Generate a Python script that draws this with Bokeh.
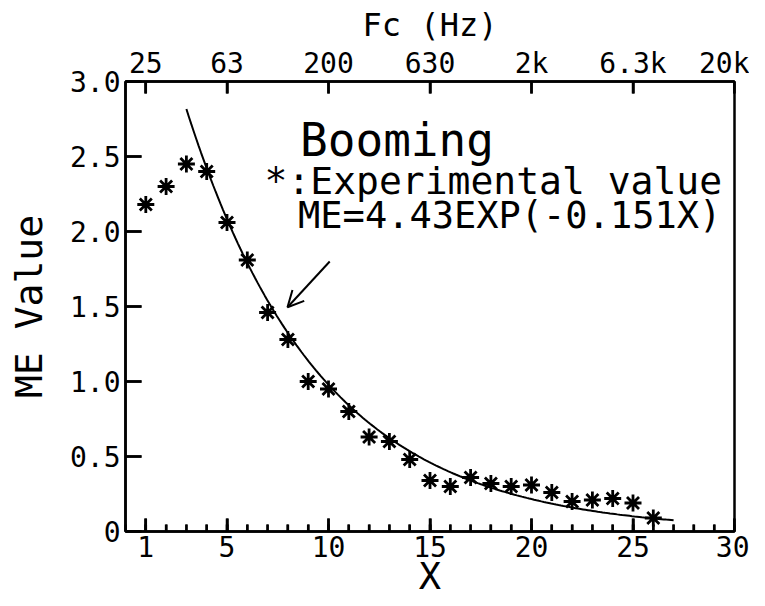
import numpy as np
from bokeh.plotting import figure
from bokeh.models import (LinearAxis, FixedTicker, Range1d, Arrow, OpenHead,
                          ColumnDataSource)
from bokeh.core.properties import value
from bokeh.embed import file_html
from bokeh.resources import INLINE

# ---- data ----
x_index = list(range(1, 27))
me_values = [2.18, 2.30, 2.45, 2.40, 2.06, 1.81, 1.46, 1.28, 1.00, 0.95,
             0.80, 0.63, 0.60, 0.48, 0.34, 0.30, 0.36, 0.32, 0.30, 0.31,
             0.26, 0.20, 0.21, 0.22, 0.19, 0.09]

# fitted curve stated on the chart: ME = 4.43 EXP(-0.151 X), drawn for X = 3..27
fit_a = 4.43
fit_b = -0.151
fit_x_start = 3
fit_x_end = 27

x_ticks = [1, 5, 10, 15, 20, 25, 30]
x_minor_ticks = list(range(0, 31))
fc_labels = ["25", "63", "200", "630", "2k", "6.3k", "20k"]
y_ticks = [0, 0.5, 1.0, 1.5, 2.0, 2.5, 3.0]
y_tick_labels = ["0", "0.5", "1.0", "1.5", "2.0", "2.5", "3.0"]

FONT = "DejaVu Sans Mono"
X0, X1, Y0, Y1 = 0, 30, 0, 3
FRAME_W, FRAME_H = 609, 450
PX_X = (X1 - X0) / FRAME_W
PX_Y = (Y1 - Y0) / FRAME_H

p = figure(width=749, height=606, output_backend="svg", toolbar_location=None,
           x_range=Range1d(X0, X1), y_range=Range1d(Y0, Y1),
           min_border_left=125, min_border_right=15, min_border_top=81, min_border_bottom=75)
p.grid.visible = False
p.outline_line_color = "black"
p.outline_line_width = 2.5
p.background_fill_color = None
p.border_fill_color = None

xb = p.below[0]
yl = p.left[0]
top = LinearAxis()
p.add_layout(top, "above")

for ax in (xb, yl, top):
    ax.axis_line_width = 2.5
    ax.axis_line_color = "black"
    ax.major_tick_line_width = 2.5
    ax.minor_tick_line_width = 2
    ax.major_tick_line_color = "black"
    ax.minor_tick_line_color = "black"
    ax.major_tick_out = 0
    ax.minor_tick_out = 0
    ax.major_label_text_font = FONT
    ax.major_label_text_font_size = "28px"
    ax.major_label_text_color = "black"
    ax.axis_label_text_font = FONT
    ax.axis_label_text_font_style = "normal"
    ax.axis_label_text_color = "black"

xb.ticker = FixedTicker(ticks=x_ticks, minor_ticks=x_minor_ticks)
xb.major_tick_in = 13
xb.minor_tick_in = 7
xb.major_label_standoff = 4
xb.axis_label = "X"
xb.axis_label_text_font_size = "37px"
xb.axis_label_standoff = -5

top.ticker = FixedTicker(ticks=x_ticks, minor_ticks=[])
top.major_label_overrides = {t: s for t, s in zip(x_ticks, fc_labels)}
top.major_tick_in = 12
top.minor_tick_in = 0
top.major_label_standoff = 2
top.axis_label = "Fc (Hz)"
top.axis_label_text_font_size = "32px"
top.axis_label_standoff = 0

yl.ticker = FixedTicker(ticks=y_ticks, minor_ticks=[])
yl.major_label_overrides = {t: s for t, s in zip(y_ticks, y_tick_labels)}
yl.major_tick_in = 16
yl.minor_tick_in = 0
yl.major_label_standoff = 5
yl.axis_label = "ME Value"
yl.axis_label_text_font_size = "38px"
yl.axis_label_standoff = 16

# inward tick marks, also drawn as glyphs from the tick lists
tick_xs, tick_ys = [], []
for t in x_minor_ticks:
    tick_xs.append([t, t]); tick_ys.append([Y0, Y0 + 7 * PX_Y])
for t in x_ticks:
    tick_xs.append([t, t]); tick_ys.append([Y0, Y0 + 13 * PX_Y])
    tick_xs.append([t, t]); tick_ys.append([Y1, Y1 - 12 * PX_Y])
for t in y_ticks:
    tick_xs.append([X0, X0 + 16 * PX_X]); tick_ys.append([t, t])
p.multi_line(xs=tick_xs, ys=tick_ys, line_color="black", line_width=2.5)

# fitted curve
fx = np.linspace(fit_x_start, fit_x_end, 200)
fy = fit_a * np.exp(fit_b * fx)
p.line(fx, fy, line_color="black", line_width=2)

# experimental values
src = ColumnDataSource(dict(x=x_index, y=me_values))
p.scatter("x", "y", source=src, marker="asterisk", size=17, angle=np.pi / 2,
          line_color="black", line_width=2.8)

# annotations
p.text(x=[8.6], y=[2.613], text=["Booming"], text_font=value(FONT),
       text_font_size="46px", text_color="black", text_baseline="alphabetic")
p.text(x=[6.85], y=[2.34], text=["*:Experimental value"], text_font=value(FONT),
       text_font_size="38px", text_color="black", text_baseline="alphabetic")
p.text(x=[8.5], y=[2.107], text=["ME=4.43EXP(-0.151X)"], text_font=value(FONT),
       text_font_size="37px", text_color="black", text_baseline="alphabetic")

p.add_layout(Arrow(end=OpenHead(size=16, line_width=2, line_color="black"),
                   x_start=10.06, y_start=1.80, x_end=7.98, y_end=1.495,
                   line_width=2, line_color="black"))

open("out.html", "w").write(file_html(p, INLINE))
